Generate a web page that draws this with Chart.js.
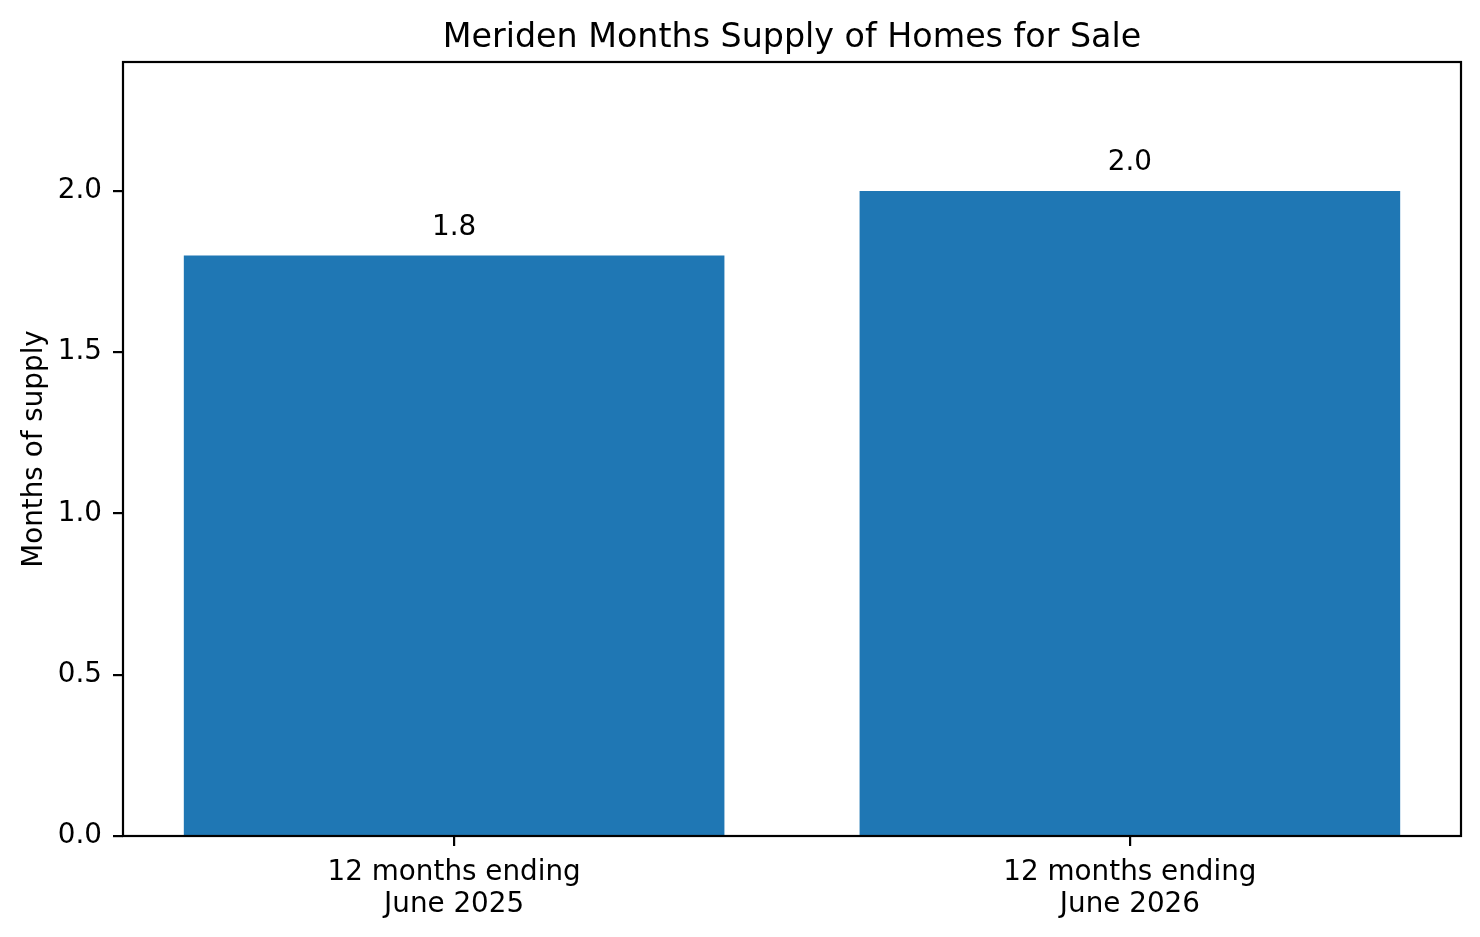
<!DOCTYPE html>
<html>
<head>
<meta charset="utf-8">
<script src="https://cdn.jsdelivr.net/npm/chart.js@4/dist/chart.umd.min.js"></script>
<style>
  html, body { margin: 0; padding: 0; background: #fff; }
  canvas { display: block; }
</style>
</head>
<body>
<canvas id="myChart" width="1480" height="937"></canvas>
<script>
const categories = [['12 months ending', 'June 2025'], ['12 months ending', 'June 2026']];
const supply = [1.8, 2.0];
const yTicks = [0, 0.5, 1.0, 1.5, 2.0];
const titleText = 'Meriden Months Supply of Homes for Sale';
const yLabel = 'Months of supply';

const FONT = 'DejaVu Sans';

// title, frame and value labels, drawn like matplotlib does
const extras = {
	id: 'extras',
	afterDatasetsDraw(chart) {
		const ctx = chart.ctx;
		const area = chart.chartArea;
		ctx.save();
		ctx.fillStyle = '#000';
		ctx.textAlign = 'center';
		ctx.textBaseline = 'alphabetic';

		ctx.font = '33.3px "' + FONT + '"';
		ctx.fillText(titleText, (area.left + area.right) / 2, 47);

		ctx.font = '27.8px "' + FONT + '"';
		const meta = chart.getDatasetMeta(0);
		meta.data.forEach((bar, i) => {
			ctx.fillText(supply[i].toFixed(1), bar.x, bar.y - 21);
		});

		ctx.strokeStyle = '#000';
		ctx.lineWidth = 2.2;
		ctx.strokeRect(area.left, area.top, area.right - area.left, area.bottom - area.top);
		ctx.restore();
	}
};

const ctx = document.getElementById('myChart').getContext('2d');
new Chart(ctx, {
	type: 'bar',
	data: {
		datasets: [{
			data: supply.map((v, i) => ({ x: i, y: v })),
			backgroundColor: '#1f77b4',
			borderWidth: 0,
			barPercentage: 0.8,
			categoryPercentage: 1.0
		}]
	},
	options: {
		responsive: false,
		animation: false,
		devicePixelRatio: 1,
		layout: { padding: { left: 0, top: 62, right: 19, bottom: 0 } },
		plugins: {
			legend: { display: false },
			tooltip: { enabled: false }
		},
		scales: {
			x: {
				type: 'linear',
				min: -0.49,
				max: categories.length - 1 + 0.49,
				offset: false,
				afterFit(scale) { scale.height = 101; },
				afterBuildTicks(scale) { scale.ticks = categories.map((c, i) => ({ value: i })); },
				grid: { offset: false, drawOnChartArea: false, drawTicks: true, tickLength: 10, color: '#000', lineWidth: 2.2 },
				border: { display: false },
				ticks: {
					color: '#000',
					padding: 11,
					maxRotation: 0,
					autoSkip: false,
					font: { family: FONT, size: 27.8, lineHeight: 1.15 },
					callback: v => categories[Math.round(v)]
				}
			},
			y: {
				min: 0,
				max: 2.4,
				afterFit(scale) { scale.width = 123; },
				afterBuildTicks(scale) { scale.ticks = yTicks.map(v => ({ value: v })); },
				grid: { drawOnChartArea: false, drawTicks: true, tickLength: 10, color: '#000', lineWidth: 2.2 },
				border: { display: false },
				ticks: {
					color: '#000',
					padding: 11,
					font: { family: FONT, size: 27.8 },
					callback: v => Number(v).toFixed(1)
				},
				title: {
					display: true,
					text: yLabel,
					color: '#000',
					padding: { top: 18, bottom: 0 },
					font: { family: FONT, size: 27.8 }
				}
			}
		}
	},
	plugins: [extras]
});
</script>
</body>
</html>
